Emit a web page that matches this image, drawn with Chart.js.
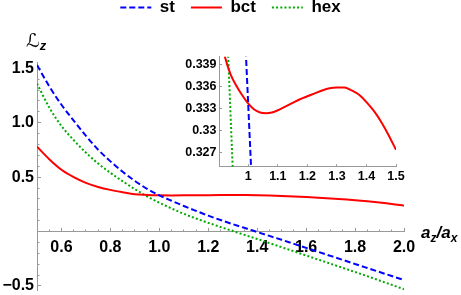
<!DOCTYPE html>
<html>
<head>
<meta charset="utf-8">
<script src="https://cdn.jsdelivr.net/npm/chart.js@4.4.1/dist/chart.umd.min.js"></script>
<style>
  html, body { margin: 0; padding: 0; background: #fff; }
  #wrap { position: relative; width: 461px; height: 295px; }
  #main { position: absolute; left: 0; top: 0; }
  #inset { position: absolute; left: 160px; top: 40px; }
</style>
</head>
<body>
<div id="wrap">
  <canvas id="main" width="461" height="295"></canvas>
  <canvas id="inset" width="250" height="155"></canvas>
</div>
<script>
'use strict';

// a_z / a_x
const ratio = [0.5, 0.55, 0.6, 0.65, 0.7, 0.75, 0.8, 0.85, 0.9, 0.95, 1.0, 1.05, 1.1, 1.15, 1.2, 1.25,
  1.3, 1.35, 1.4, 1.45, 1.5, 1.55, 1.6, 1.65, 1.7, 1.75, 1.8, 1.85, 1.9, 1.95, 2.0];
const lzSt  = [1.53, 1.335, 1.165, 1.02, 0.88, 0.752, 0.645, 0.55, 0.465, 0.393, 0.3333, 0.283, 0.235, 0.19, 0.146, 0.106,
  0.068, 0.032, -0.004, -0.04, -0.076, -0.113, -0.15, -0.187, -0.224, -0.261, -0.298, -0.335, -0.372, -0.409, -0.446];
const lzBct = [0.78, 0.665, 0.568, 0.50, 0.447, 0.41, 0.383, 0.362, 0.3435, 0.337, 0.3336, 0.3324, 0.3328, 0.3338, 0.3347, 0.3354,
  0.3359, 0.3356, 0.3339, 0.3312, 0.3274, 0.3225, 0.317, 0.311, 0.304, 0.296, 0.288, 0.278, 0.267, 0.254, 0.238];
const lzHex = [1.36, 1.14, 0.97, 0.84, 0.725, 0.625, 0.54, 0.462, 0.39, 0.323, 0.265, 0.212, 0.163, 0.12, 0.08, 0.042,
  0.005, -0.032, -0.068, -0.106, -0.144, -0.182, -0.22, -0.258, -0.296, -0.334, -0.372, -0.41, -0.45, -0.49, -0.53];

// inset, zoom around a_z/a_x = 1
const insetBctX = [0.91, 0.92, 0.94, 0.96, 0.98, 1.0, 1.02, 1.04, 1.06, 1.08, 1.1, 1.125, 1.15, 1.175, 1.2, 1.225,
  1.25, 1.275, 1.3, 1.325, 1.35, 1.375, 1.4, 1.425, 1.45, 1.475, 1.5];
const insetBct  = [0.342, 0.3402, 0.3377, 0.3361, 0.3348, 0.3337, 0.3329, 0.3325, 0.3324, 0.3325, 0.3328, 0.3333, 0.3338,
  0.3343, 0.3347, 0.3351, 0.3355, 0.3358, 0.3359, 0.3359, 0.3355, 0.3349, 0.3339, 0.3327, 0.3312, 0.3294, 0.3274];
const insetStX  = [0.99, 1.0, 1.01];
const insetSt   = [0.3421, 0.3333, 0.3245];
const insetHexX = [0.925, 0.94, 0.955];
const insetHex  = [0.3471, 0.3321, 0.3171];

// ticks
const xMajor = [0.6, 0.8, 1.0, 1.2, 1.4, 1.6, 1.8, 2.0];
const xMinor = [0.55, 0.65, 0.7, 0.75, 0.85, 0.9, 0.95, 1.05, 1.1, 1.15, 1.25, 1.3, 1.35, 1.45, 1.5, 1.55,
  1.65, 1.7, 1.75, 1.85, 1.9, 1.95];
const yMajor = [-0.5, 0.5, 1.0, 1.5];
const yMinor = [-0.4, -0.3, -0.2, -0.1, 0.1, 0.2, 0.3, 0.4, 0.6, 0.7, 0.8, 0.9, 1.1, 1.2, 1.3, 1.4];
const insetXTicks = [1, 1.1, 1.2, 1.3, 1.4, 1.5];
const insetYTicks = [0.327, 0.33, 0.333, 0.336, 0.339];

const axisGray = '#999999';
const family = '"Liberation Sans", Arial, sans-serif';
const tickFont = { family, size: 16, weight: 'bold' };
const insetFont = { family, size: 12.5, weight: 'bold' };

const pts = (xs, ys) => xs.map((x, i) => ({ x, y: ys[i] }));
const setTicks = list => s => { s.ticks = list.map(v => ({ value: v })); };
const noPad = s => { s.paddingLeft = s.paddingRight = s.paddingTop = s.paddingBottom = 0; };

const styles = {
  st:  { borderColor: '#0000ff', borderDash: [6, 3] },
  bct: { borderColor: '#ff0000', borderDash: [] },
  hex: { borderColor: '#00aa00', borderDash: [2, 2.2] }
};

function lineSet(label, data) {
  return {
    label, data, ...styles[label],
    borderWidth: 2, pointRadius: 0, fill: false,
    cubicInterpolationMode: 'monotone', clip: 0
  };
}

const axisTitles = {
  id: 'axisTitles',
  afterDraw(chart) {
    const { ctx } = chart;
    const runs = (x, y, list) => list.forEach(r => {
      ctx.font = r.font;
      ctx.fillText(r.t, x, y + (r.dy || 0));
      x += ctx.measureText(r.t).width;
    });
    ctx.save();
    ctx.fillStyle = '#000';
    ctx.textBaseline = 'alphabetic';
    runs(26, 47, [
      { t: '\u2112', font: '19px "DejaVu Sans"' },
      { t: 'z', font: 'italic bold 13px ' + family, dy: 3 }
    ]);
    runs(421, 238, [
      { t: 'a', font: 'italic bold 17px ' + family },
      { t: 'z', font: 'italic bold 12px ' + family, dy: 4 },
      { t: '/', font: 'italic bold 17px ' + family },
      { t: 'a', font: 'italic bold 17px ' + family },
      { t: 'x', font: 'italic bold 12px ' + family, dy: 4 }
    ]);
    ctx.restore();
  }
};

new Chart(document.getElementById('main'), {
  type: 'line',
  data: {
    datasets: [
      lineSet('st', pts(ratio, lzSt)),
      lineSet('bct', pts(ratio, lzBct)),
      lineSet('hex', pts(ratio, lzHex))
    ]
  },
  options: {
    responsive: false, animation: false, devicePixelRatio: 1,
    layout: { padding: { top: -17, left: 0, right: 0, bottom: 4.7 } },
    plugins: {
      tooltip: { enabled: false },
      legend: {
        position: 'top',
        labels: {
          usePointStyle: true, pointStyleWidth: 31, padding: 16, color: '#000',
          font: { family, size: 17, weight: 'bold' },
          generateLabels: chart => chart.data.datasets.map((ds, i) => ({
            text: ds.label, datasetIndex: i, hidden: false,
            strokeStyle: ds.borderColor, fillStyle: ds.borderColor,
            lineWidth: 2, lineDash: ds.borderDash, pointStyle: 'line', fontColor: '#000'
          }))
        }
      },
      // empty title only keeps the gap between legend and plot
      title: { display: true, text: '', position: 'top', weight: 500,
        padding: { top: 0, bottom: 0 }, font: { size: 10, lineHeight: '36.9px' } }
    },
    scales: {
      x: {
        type: 'linear', axis: 'x', min: 0.5, max: 2.0, position: { y: 0 },
        afterBuildTicks: setTicks(xMajor),
        afterFit: s => { s.height = 0; noPad(s); },
        border: { display: true, color: axisGray, width: 1 },
        grid: { drawOnChartArea: false, tickLength: -4, tickColor: axisGray },
        ticks: { autoSkip: false, maxRotation: 0, padding: 10, color: '#000', font: tickFont,
          callback: v => v.toFixed(1) }
      },
      y: {
        type: 'linear', axis: 'y', min: -0.54, max: 1.55, position: 'left',
        afterBuildTicks: setTicks(yMajor),
        afterFit: s => { s.width = 37; noPad(s); },
        border: { display: true, color: axisGray, width: 1 },
        grid: { drawOnChartArea: false, tickLength: -4, tickColor: axisGray },
        ticks: { autoSkip: false, padding: 7, color: '#000', font: tickFont,
          callback: v => (v < 0 ? '\u2212' : '') + Math.abs(v).toFixed(1) }
      },
      xm: {
        type: 'linear', axis: 'x', min: 0.5, max: 2.0, position: { y: 0 },
        afterBuildTicks: setTicks(xMinor),
        afterFit: s => { s.height = 0; noPad(s); },
        border: { display: false },
        grid: { drawOnChartArea: false, tickLength: -2.5, tickColor: axisGray },
        ticks: { display: false, autoSkip: false }
      },
      ym: {
        type: 'linear', axis: 'y', min: -0.54, max: 1.55, position: { x: 0.5 },
        afterBuildTicks: setTicks(yMinor),
        afterFit: s => { s.width = 0; noPad(s); },
        border: { display: false },
        grid: { drawOnChartArea: false, tickLength: -2.5, tickColor: axisGray },
        ticks: { display: false, autoSkip: false }
      },
      yr: {
        type: 'linear', axis: 'y', position: 'right',
        afterFit: s => { s.width = 57; noPad(s); },
        border: { display: false }, grid: { display: false }, ticks: { display: false }
      }
    }
  },
  plugins: [axisTitles]
});

new Chart(document.getElementById('inset'), {
  type: 'line',
  data: {
    datasets: [
      lineSet('st', pts(insetStX, insetSt)),
      lineSet('bct', pts(insetBctX, insetBct)),
      lineSet('hex', pts(insetHexX, insetHex))
    ]
  },
  options: {
    responsive: false, animation: false, devicePixelRatio: 1,
    layout: { padding: { top: 16.7, left: 0, right: 14, bottom: 0 } },
    plugins: { legend: { display: false }, tooltip: { enabled: false } },
    scales: {
      x: {
        type: 'linear', min: 0.9025, max: 1.5, position: 'bottom',
        afterBuildTicks: setTicks(insetXTicks),
        afterFit: s => { s.height = 28.3; noPad(s); },
        border: { display: true, color: axisGray, width: 1 },
        grid: { drawOnChartArea: false, tickLength: -2.5, tickColor: axisGray },
        ticks: { autoSkip: false, maxRotation: 0, padding: 5, color: '#000', font: insetFont,
          callback: v => String(v) }
      },
      y: {
        type: 'linear', min: 0.3251, max: 0.3401, position: 'left',
        afterBuildTicks: setTicks(insetYTicks),
        afterFit: s => { s.width = 59.5; noPad(s); },
        border: { display: true, color: axisGray, width: 1 },
        grid: { drawOnChartArea: false, tickLength: -2.5, tickColor: axisGray },
        ticks: { autoSkip: false, padding: 5.5, color: '#000', font: insetFont,
          callback: v => String(v) }
      }
    }
  }
});
</script>
</body>
</html>
